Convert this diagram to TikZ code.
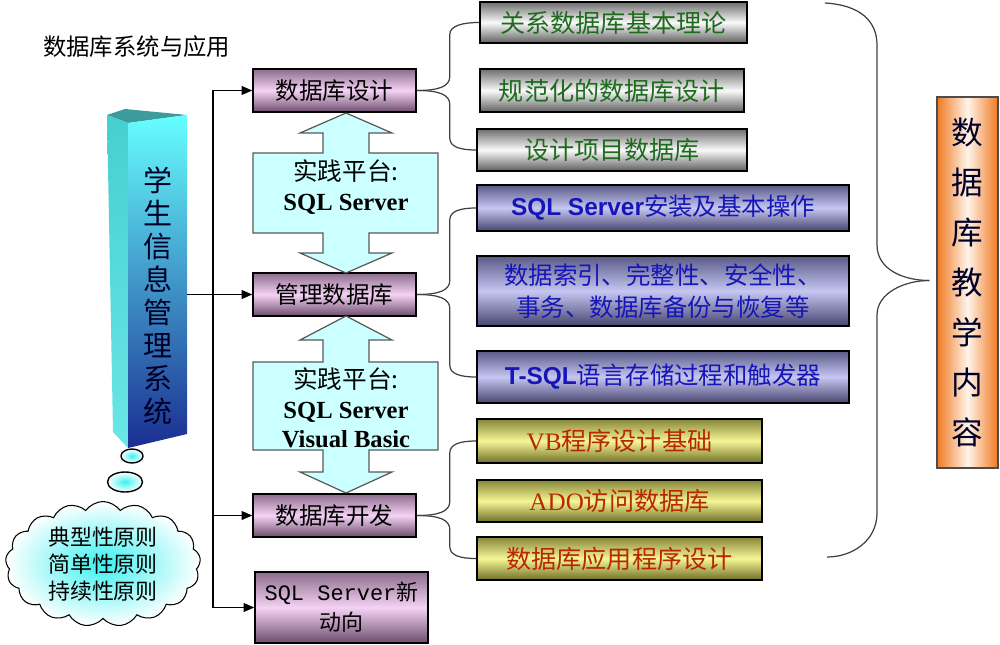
\documentclass[tikz,border=0pt]{standalone}
\usepackage{fontspec}
\setmainfont{Noto Sans CJK SC}
\newfontfamily\serifb{Liberation Serif}
\newfontfamily\arialb{Liberation Sans}
\newfontfamily\monof{Liberation Mono}
\usepackage{tikz}
\usetikzlibrary{shapes.symbols, shapes.geometric, arrows.meta, calc}
\usepackage{xcolor}
\definecolor{lbtop}{HTML}{8C6C8C}
\definecolor{lbmid}{HTML}{F4D2F4}
\definecolor{lbbot}{HTML}{6C4C6C}
\definecolor{gytop}{HTML}{6E6E6E}
\definecolor{gymid}{HTML}{FAFAFA}
\definecolor{gybot}{HTML}{5E5E5E}
\definecolor{gytext}{HTML}{1E6B1E}
\definecolor{bltop}{HTML}{5A5A86}
\definecolor{blmid}{HTML}{C6C6F2}
\definecolor{blbot}{HTML}{45456E}
\definecolor{bltext}{HTML}{1616B8}
\definecolor{yltop}{HTML}{86863A}
\definecolor{ylmid}{HTML}{F6F696}
\definecolor{ylbot}{HTML}{6E6E28}
\definecolor{yltext}{HTML}{B82800}
\definecolor{orside}{HTML}{F07A22}
\definecolor{ormid}{HTML}{FFF4EA}
\definecolor{platfill}{HTML}{CCFFFF}
\definecolor{pilcap}{HTML}{3C9C9C}
\definecolor{pilsidetop}{HTML}{46CFCF}
\definecolor{pilsidebot}{HTML}{6AE6E6}
\definecolor{pilfronttop}{HTML}{66FFFF}
\definecolor{pilfrontbot}{HTML}{1A2E92}
\definecolor{bubblein}{HTML}{3CF0F0}

\begin{document}
\begin{tikzpicture}[x=0.02cm,y=-0.02cm]
				\tikzstyle{box} = [draw=black,line width=0.9pt,inner sep=0pt,align=center]
				\tikzstyle{leftbox} = [box,top color=lbtop,bottom color=lbbot,middle color=lbmid,font=\fontsize{13.4}{17}\selectfont]
				\tikzstyle{graybox} = [box,top color=gytop,bottom color=gybot,middle color=gymid,text=gytext,font=\fontsize{14.3}{17}\selectfont]
				\tikzstyle{bluebox} = [box,top color=bltop,bottom color=blbot,middle color=blmid,text=bltext,font=\fontsize{13.9}{18}\selectfont]
				\tikzstyle{yellowbox} = [box,top color=yltop,bottom color=ylbot,middle color=ylmid,text=yltext,font=\fontsize{14.3}{17}\selectfont]
				\tikzstyle{platform} = [draw=black!65,fill=platfill,line width=0.7pt]
				\tikzstyle{bubble} = [ellipse,draw=black,line width=0.8pt,inner color=bubblein,outer color=white,inner sep=0pt]
				\tikzstyle{arr} = [-{Triangle[length=6pt,width=5pt]},line width=0.7pt]
				\tikzstyle{brace} = [draw=black!75,line width=0.7pt]
				\useasboundingbox (0,0) rectangle (1000,645);
				% title
				\node[anchor=west,font=\fontsize{13.3}{15}\selectfont] (title) at (37,47) {数据库系统与应用};
				% pillar
				\fill[pilcap] (107,115) -- (125,109) -- (187,115) -- (128,123) -- cycle;
				\shade[top color=pilsidetop,bottom color=pilsidebot] (107,115) -- (128,123) -- (128,448) -- (113,432) -- cycle;
				\shade[top color=pilfronttop,bottom color=pilfrontbot] (128,123) -- (187,115) -- (187,434) -- (128,448) -- cycle;
				\node[align=center,text=black!85!blue,font=\fontsize{16.5}{18.8}\selectfont] (sys) at (158,296) {学\\生\\信\\息\\管\\理\\系\\统};
				\coordinate (pil) at (187,0);
				\node[bubble,minimum width=0.44cm,minimum height=0.28cm] (bub1) at (132,456) {};
				\node[bubble,minimum width=0.70cm,minimum height=0.40cm] (bub2) at (125,482) {};
				\node[cloud,cloud puffs=17,cloud puff arc=110,aspect=1.55,draw=black,line width=0.6pt,
					inner color=bubblein,outer color=white,inner sep=0pt,minimum width=3.9cm,minimum height=2.5cm,
					align=center,font=\fontsize{12.5}{15.4}\selectfont] (rules) at (103,564) {典型性原则\\简单性原则\\持续性原则};
				% left column
				\node[leftbox,minimum width=3.26cm,minimum height=0.86cm] (dbd) at (334.5,90.5) {数据库设计};
				\node[leftbox,minimum width=3.26cm,minimum height=0.86cm] (mgmt) at (334.5,294.5) {管理数据库};
				\node[leftbox,minimum width=3.26cm,minimum height=0.86cm] (dev) at (334.5,515.5) {数据库开发};
				\node[leftbox,minimum width=3.46cm,minimum height=1.42cm,font=\fontsize{12.5}{17}\selectfont] (news) at (341.5,607.5) {{\monof SQL Server}新\\动向};
				\coordinate (bus) at (213,0);
				\draw[line width=0.7pt] (bus |- dbd.west) -- (bus |- news.west);
				\draw[arr] (bus |- dbd.west) -- (dbd.west);
				\draw[arr] (pil |- mgmt.west) -- (mgmt.west);
				\draw[arr] (bus |- dev.west) -- (dev.west);
				\draw[arr] (bus |- news.west) -- (news.west);
				% platforms
				\draw[platform] (346,113) -- (392,133) -- (369,133) -- (369,153) -- (438,153) -- (438,233) -- (369,233) -- (369,253) -- (392,253) -- (346,273)
					-- (300,253) -- (323,253) -- (323,233) -- (253,233) -- (253,153) -- (323,153) -- (323,133) -- (300,133) -- cycle;
				\draw[platform] (346,316) -- (392,340) -- (369,340) -- (369,362) -- (438,362) -- (438,450) -- (369,450) -- (369,472) -- (392,472) -- (346,493)
					-- (300,472) -- (323,472) -- (323,450) -- (253,450) -- (253,362) -- (323,362) -- (323,340) -- (300,340) -- cycle;
				\node[align=center,font=\fontsize{14}{16.6}\selectfont] (plat1) at (346,187) {实践平台:\\{\serifb\bfseries SQL Server}};
				\node[align=center,font=\fontsize{14}{16.8}\selectfont] (plat2) at (346,408) {实践平台:\\{\serifb\bfseries SQL Server}\\{\serifb\bfseries Visual Basic}};
				% right column
				\node[graybox,minimum width=5.34cm,minimum height=0.82cm] (r1) at (613.5,22.5) {关系数据库基本理论};
				\node[graybox,minimum width=5.28cm,minimum height=0.86cm] (r2) at (612,90.5) {规范化的数据库设计};
				\node[graybox,minimum width=5.40cm,minimum height=0.84cm] (r3) at (612,150) {设计项目数据库};
				\node[bluebox,minimum width=7.44cm,minimum height=0.92cm] (b1) at (663,208) {{\arialb\bfseries SQL Server}安装及基本操作};
				\node[bluebox,minimum width=7.44cm,minimum height=1.40cm] (b2) at (663,291) {数据索引、完整性、安全性、\\事务、数据库备份与恢复等};
				\node[bluebox,minimum width=7.44cm,minimum height=1.04cm] (b3) at (663,377) {{\arialb\bfseries T-SQL}语言存储过程和触发器};
				\node[yellowbox,minimum width=5.70cm,minimum height=0.88cm] (y1) at (619.5,441) {{\serifb VB}程序设计基础};
				\node[yellowbox,minimum width=5.70cm,minimum height=0.84cm] (y2) at (619.5,501) {{\serifb ADO}访问数据库};
				\node[yellowbox,minimum width=5.70cm,minimum height=0.86cm] (y3) at (619.5,558.5) {数据库应用程序设计};
				\node[box,line width=0.8pt,draw=black!70,left color=orside,right color=orside,middle color=ormid,text=black!85!blue,
					minimum width=1.22cm,minimum height=7.42cm,font=\fontsize{18}{28.4}\selectfont] (cont) at (967.5,282.5) {数\\据\\库\\教\\学\\内\\容};
				% braces
				\coordinate (s1) at ($(dbd.east)+(33,0)$);
				\coordinate (s2) at ($(mgmt.east)+(33,0)$);
				\coordinate (s3) at ($(dev.east)+(33,0)$);
				\draw[brace] (dbd.east) .. controls +(22,0) and +(0,10) .. ($(s1)+(0,-14)$) -- ($(s1 |- r1.west)+(0,12)$) .. controls +(0,-9) and +(-16,0) .. (r1.west);
				\draw[brace] (dbd.east) .. controls +(22,0) and +(0,-10) .. ($(s1)+(0,14)$) -- ($(s1 |- r3.west)+(0,-12)$) .. controls +(0,9) and +(-16,0) .. (r3.west);
				\draw[brace] (mgmt.east) .. controls +(22,0) and +(0,10) .. ($(s2)+(0,-14)$) -- ($(s2 |- b1.west)+(0,12)$) .. controls +(0,-9) and +(-16,0) .. (b1.west);
				\draw[brace] (mgmt.east) .. controls +(22,0) and +(0,-10) .. ($(s2)+(0,14)$) -- ($(s2 |- b3.west)+(0,-12)$) .. controls +(0,9) and +(-16,0) .. (b3.west);
				\draw[brace] (dev.east) .. controls +(22,0) and +(0,10) .. ($(s3)+(0,-14)$) -- ($(s3 |- y1.west)+(0,12)$) .. controls +(0,-9) and +(-16,0) .. (y1.west);
				\draw[brace] (dev.east) .. controls +(22,0) and +(0,-10) .. ($(s3)+(0,14)$) -- ($(s3 |- y3.west)+(0,-12)$) .. controls +(0,9) and +(-16,0) .. (y3.west);
				\coordinate (btop) at (825,3);
				\coordinate (bbot) at (827,557);
				\coordinate (btip) at ($(cont.west)+(-7,-2)$);
				\draw[brace] (btop) .. controls +(35,2) and +(0,-24) .. (877,45) -- (877,245) .. controls +(0,25) and +(-25,0) .. (btip);
				\draw[brace] (btip) .. controls +(-25,0) and +(0,-22) .. (877,315) -- (877,513) .. controls +(0,28) and +(25,0) .. (bbot);
				\end{tikzpicture}
\end{document}
